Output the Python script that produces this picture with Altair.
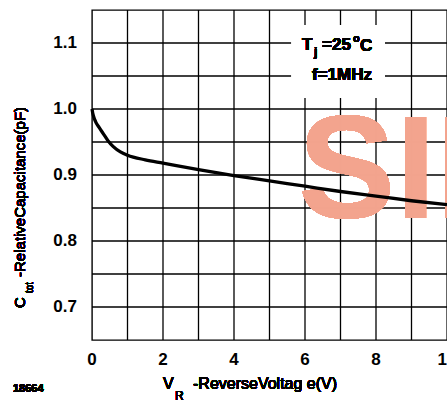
import altair as alt
import pandas as pd

# Reverse voltage (V) and relative capacitance (pF)
vr = [0, 0.02, 0.05, 0.1, 0.2, 0.3, 0.45, 0.6, 0.8, 1.0, 1.5, 2, 3, 4, 5, 6, 7, 8, 9, 10]
ctot = [1.0, 0.994, 0.988, 0.981, 0.972, 0.964, 0.952, 0.943, 0.935, 0.930, 0.923,
        0.918, 0.908, 0.899, 0.891, 0.883, 0.875, 0.868, 0.861, 0.855]

# grid lines and labelled ticks
x_grid = [1, 2, 3, 4, 5, 6, 7, 8, 9]
y_grid = [0.7, 0.75, 0.8, 0.85, 0.9, 0.95, 1.0, 1.05, 1.1]
x_labels = [0, 2, 4, 6, 8, 10]
y_labels = [0.7, 0.8, 0.9, 1.0, 1.1]

df = pd.DataFrame({"vr": vr, "c": ctot})
gx = pd.DataFrame({"gx": x_grid})
gy = pd.DataFrame({"gy": y_grid})
lx = pd.DataFrame({"v": x_labels, "t": [str(v) for v in x_labels]})
ly = pd.DataFrame({"v": y_labels, "t": [f"{v:.1f}" for v in y_labels]})

NARROW = "Liberation Sans Narrow, Liberation Sans, Arial"
REG = "Liberation Sans, Arial"

xs = alt.Scale(domain=[0, 10], nice=False, zero=False)
ys = alt.Scale(domain=[0.65, 1.15], nice=False, zero=False)

vrules = alt.Chart(gx).mark_rule(color="black", strokeWidth=1.3).encode(
    x=alt.X("gx:Q", scale=xs, axis=None)
)
hrules = alt.Chart(gy).mark_rule(color="black", strokeWidth=1.3).encode(
    y=alt.Y("gy:Q", scale=ys, axis=None)
)

xlab = alt.Chart(lx).mark_text(
    font=NARROW, fontWeight="bold", fontSize=17, color="black",
    align="center", baseline="top"
).encode(x=alt.X("v:Q", scale=xs, axis=None), y=alt.value(342), text="t:N")

ylab = alt.Chart(ly).mark_text(
    font=NARROW, fontWeight="bold", fontSize=17, color="black",
    align="right", baseline="middle"
).encode(y=alt.Y("v:Q", scale=ys, axis=None), x=alt.value(-15), text="t:N")

line = alt.Chart(df).mark_line(color="black", strokeWidth=3.3, interpolate="monotone").encode(
    x=alt.X("vr:Q", scale=xs, axis=None),
    y=alt.Y("c:Q", scale=ys, axis=None),
)

box = alt.Chart(df).mark_rect(color="white").encode(
    x=alt.datum(5.63, scale=xs, axis=None), x2=alt.datum(8.25),
    y=alt.datum(1.127, scale=ys, axis=None), y2=alt.datum(1.017),
)

watermark = alt.Chart(df).mark_text(
    text="SII", font=NARROW, fontWeight="bold", fontSize=146, color="#f3a48e",
    opacity=0.8, align="left", baseline="alphabetic"
).encode(x=alt.datum(5.8, scale=xs, axis=None), y=alt.datum(0.835, scale=ys, axis=None))


def txt(s, x, y, size, font=NARROW, weight="bold", angle=0, align="left"):
    return alt.Chart(df).mark_text(
        text=s, font=font, fontSize=size, fontWeight=weight, color="black",
        align=align, baseline="alphabetic", angle=angle
    ).encode(x=alt.value(x), y=alt.value(y))


annots = [
    # condition box
    txt("T", 210, 40, 17),
    txt("j", 222, 46, 12),
    txt("=25", 230, 40, 17),
    txt("o", 261, 32, 11),
    txt("C", 268, 41, 17),
    txt("f=1MHz", 250, 70, 17, align="center"),
    # x title
    txt("V", 71, 379, 16, font=REG, weight="normal"),
    txt("R", 83, 390, 12, font=REG, weight="normal"),
    txt("-ReverseVoltag  e(V)", 101, 379, 16, font=REG, weight="normal"),
    txt("18664", -79, 382, 11),
    # y title (rotated)
    txt("C", -67, 298, 15, font=REG, weight="normal", angle=270),
    txt("tot", -59.5, 283, 10, font=REG, weight="normal", angle=270),
    txt("-RelativeCapacitance(pF)", -67, 267, 15, font=REG, weight="normal", angle=270),
]

chart = alt.layer(vrules, hrules, box, watermark, line, xlab, ylab, *annots).properties(
    width=355, height=330,
    autosize=alt.AutoSizeParams(type="none"),
    padding={"left": 92, "top": 10, "right": 0, "bottom": 61},
).configure_view(
    stroke="black", strokeWidth=1.4
)

chart.save("out.html", embed_options={"renderer": "svg", "actions": False})
